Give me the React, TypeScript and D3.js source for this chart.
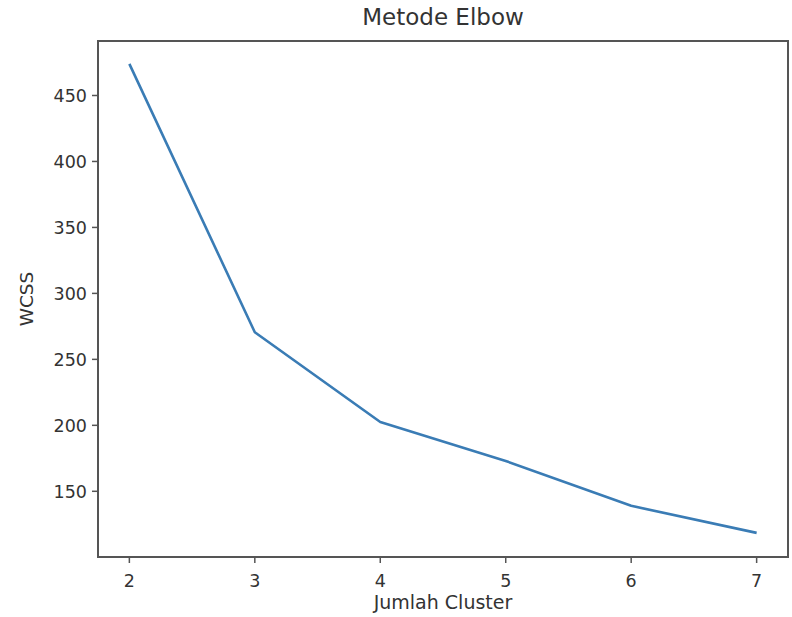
import React from 'react';
import * as d3 from 'd3';

// data
const clusters = [2, 3, 4, 5, 6, 7];
const wcss = [474, 270.5, 202.5, 173, 139, 118.5];
const yTicks = [150, 200, 250, 300, 350, 400, 450];

const width = 792;
const height = 617;
const margin = {top: 41, right: 4, bottom: 60, left: 98};

export default function App() {
  const x = d3.scaleLinear()
    .domain([1.75, 7.25])
    .range([margin.left, width - margin.right]);
  const y = d3.scaleLinear()
    .domain([100.2, 491.3])
    .range([height - margin.bottom, margin.top]);

  const line = d3.line<number>()
    .x((d, i) => x(clusters[i]))
    .y(d => y(d));

  const font = "'DejaVu Sans', sans-serif";
  const axisColor = '#555';
  const textColor = '#333';
  const bottom = height - margin.bottom;

  return (
    <div style={{position: 'fixed', left: 0, top: 0}}>
      <svg width={width} height={height} style={{display: 'block', background: '#fff'}}>
        <path d={line(wcss) || ''} fill="none" stroke="#3a7cb5" strokeWidth={2.6} strokeLinejoin="round" />

        {/* frame */}
        <rect x={margin.left} y={margin.top}
          width={width - margin.left - margin.right}
          height={bottom - margin.top}
          fill="none" stroke={axisColor} strokeWidth={2} />

        {/* x axis */}
        {clusters.map(c => (
          <g key={c}>
            <line x1={x(c)} x2={x(c)} y1={bottom} y2={bottom + 6} stroke={axisColor} strokeWidth={1.5} />
            <text x={x(c)} y={bottom + 30} textAnchor="middle" fontFamily={font} fontSize={17.5} fill={textColor}>{c}</text>
          </g>
        ))}

        {/* y axis */}
        {yTicks.map(t => (
          <g key={t}>
            <line x1={margin.left - 6} x2={margin.left} y1={y(t)} y2={y(t)} stroke={axisColor} strokeWidth={1.5} />
            <text x={margin.left - 11} y={y(t)} dy="0.36em" textAnchor="end" fontFamily={font} fontSize={17.5} fill={textColor}>{t}</text>
          </g>
        ))}

        <text x={(margin.left + width - margin.right) / 2} y={25} textAnchor="middle" fontFamily={font} fontSize={23} fill={textColor}>Metode Elbow</text>
        <text x={(margin.left + width - margin.right) / 2} y={609} textAnchor="middle" fontFamily={font} fontSize={19} fill={textColor}>Jumlah Cluster</text>
        <text transform={`translate(33, ${(margin.top + bottom) / 2}) rotate(-90)`} textAnchor="middle" fontFamily={font} fontSize={18.5} fill={textColor}>WCSS</text>
      </svg>
    </div>
  );
}
